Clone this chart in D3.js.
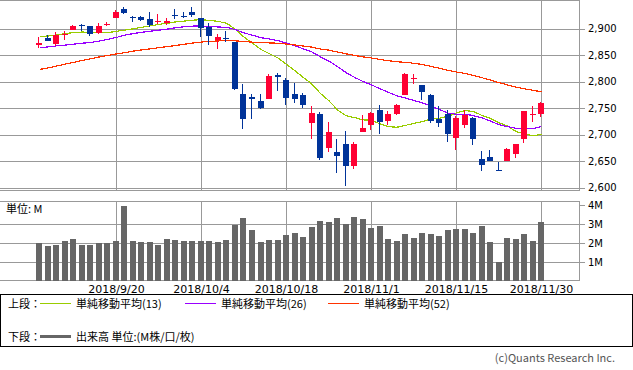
<!DOCTYPE html>
<html>
<head>
<meta charset="utf-8">
<script src="https://cdn.jsdelivr.net/npm/d3@7"></script>
<style>
  body { margin: 0; background: #fff; }
  svg { display: block; }
  .ax text { font-family: "DejaVu Sans", sans-serif; fill: #000; }
  .jp { font-family: "Noto Sans CJK JP", sans-serif; fill: #000; }
</style>
</head>
<body>
<div id="chart"></div>
<script>
// --- data ---
const dates = ["2018/9/7","2018/9/10","2018/9/11","2018/9/12","2018/9/13","2018/9/14","2018/9/17","2018/9/18","2018/9/19","2018/9/20",
  "2018/9/21","2018/9/24","2018/9/25","2018/9/26","2018/9/27","2018/9/28","2018/10/1","2018/10/2","2018/10/3","2018/10/4",
  "2018/10/5","2018/10/8","2018/10/9","2018/10/10","2018/10/11","2018/10/12","2018/10/15","2018/10/16","2018/10/17","2018/10/18",
  "2018/10/19","2018/10/22","2018/10/23","2018/10/24","2018/10/25","2018/10/26","2018/10/29","2018/10/30","2018/10/31","2018/11/1",
  "2018/11/2","2018/11/5","2018/11/6","2018/11/7","2018/11/8","2018/11/9","2018/11/12","2018/11/13","2018/11/14","2018/11/15",
  "2018/11/16","2018/11/19","2018/11/20","2018/11/21","2018/11/23","2018/11/26","2018/11/27","2018/11/28","2018/11/29","2018/11/30"];

const open = [2868.3,2881.4,2871.6,2888.3,2896.9,2906.4,2903.8,2890.7,2906.6,2919.7,
  2936.8,2921.8,2921.8,2917.0,2911.7,2910.0,2926.3,2923.8,2931.7,2919.4,
  2902.5,2877.5,2882.5,2873.9,2776.9,2770.5,2763.8,2767.1,2811.7,2802.0,
  2775.7,2773.9,2721.0,2737.9,2674.9,2667.9,2682.7,2640.7,2705.6,2717.6,
  2745.5,2726.4,2738.4,2774.1,2806.4,2794.1,2773.9,2730.1,2737.9,2693.5,
  2718.5,2730.7,2654.6,2657.7,2633.4,2650.0,2663.8,2691.5,2737.0,2737.8];
const high = [2883.8,2886.9,2892.5,2894.7,2906.8,2908.3,2904.7,2911.2,2912.4,2934.8,
  2940.9,2923.8,2924.0,2931.2,2927.2,2920.5,2937.1,2931.4,2939.9,2919.8,
  2909.6,2889.5,2894.8,2874.0,2795.1,2775.8,2776.0,2813.5,2816.9,2806.0,
  2797.8,2778.9,2753.6,2742.6,2722.7,2692.4,2706.9,2685.4,2736.7,2741.7,
  2756.6,2744.3,2756.8,2815.2,2814.8,2794.1,2776.0,2754.6,2746.8,2735.4,
  2746.8,2733.2,2669.4,2670.7,2647.6,2674.4,2682.5,2744.0,2753.8,2760.9];
const low = [2864.1,2875.9,2866.8,2879.2,2896.4,2895.8,2886.2,2890.4,2903.8,2919.7,
  2927.1,2912.6,2913.7,2903.3,2909.3,2907.5,2917.9,2919.4,2921.4,2883.9,
  2869.3,2862.1,2874.3,2784.9,2710.5,2729.4,2749.0,2766.9,2781.8,2755.2,
  2760.3,2749.2,2691.4,2651.9,2667.8,2628.2,2603.5,2635.3,2705.6,2708.9,
  2700.4,2717.9,2737.1,2774.1,2795.0,2764.2,2722.0,2715.0,2685.8,2670.8,
  2712.2,2681.1,2631.5,2649.8,2631.1,2650.0,2655.9,2684.4,2722.9,2732.8];
const close = [2871.7,2877.1,2887.9,2888.9,2904.2,2905.0,2888.8,2904.3,2908.0,2930.8,
  2929.7,2919.4,2915.6,2906.0,2914.0,2914.0,2924.6,2923.4,2925.5,2901.6,
  2885.6,2884.4,2880.3,2785.7,2728.4,2767.1,2750.8,2809.9,2809.2,2768.8,
  2767.8,2755.9,2740.7,2656.1,2705.6,2658.7,2641.3,2682.6,2711.7,2740.4,
  2723.1,2738.3,2755.5,2813.9,2806.8,2781.0,2726.2,2722.2,2701.6,2730.2,
  2736.3,2690.7,2641.9,2649.9,2632.6,2673.5,2682.2,2743.8,2737.8,2760.2];

const ma13 = [2884.8,2885.9,2887.9,2890.4,2892.6,2893.3,2892.6,2891.8,2892.4,2894.6,
  2897.1,2899.5,2902.4,2905.0,2907.9,2909.9,2912.6,2914.1,2915.7,2916.7,
  2915.2,2913.4,2909.5,2898.5,2883.8,2872.4,2860.4,2852.4,2844.4,2832.4,
  2820.4,2807.3,2795.0,2777.3,2763.6,2746.5,2735.4,2731.9,2727.6,2726.8,
  2720.1,2714.7,2713.7,2717.2,2721.1,2724.2,2729.6,2730.9,2734.2,2741.0,
  2745.2,2743.5,2736.0,2730.3,2722.2,2715.9,2705.8,2700.9,2697.6,2700.2];
const ma26 = [2863.5,2865.4,2867.3,2868.8,2870.5,2872.3,2873.7,2876.4,2879.7,2883.2,
  2887.5,2890.5,2893.0,2894.9,2896.9,2898.9,2901.5,2903.4,2904.5,2904.6,
  2903.5,2902.9,2902.1,2897.8,2891.6,2887.4,2882.7,2880.1,2877.1,2872.5,
  2867.2,2861.5,2855.8,2846.3,2838.5,2828.0,2816.9,2807.8,2800.0,2793.6,
  2786.3,2779.5,2773.0,2768.8,2764.2,2759.6,2753.5,2747.2,2740.4,2738.2,
  2738.5,2735.6,2731.4,2725.2,2718.4,2714.8,2711.5,2711.0,2710.9,2714.9];
const ma52 = [2822.9,2825.8,2829.4,2832.8,2836.3,2839.8,2843.1,2846.4,2849.2,2852.0,
  2854.6,2857.4,2859.7,2861.7,2863.9,2865.9,2868.0,2870.3,2872.7,2874.5,
  2875.8,2876.5,2877.3,2876.7,2875.3,2874.3,2873.1,2872.8,2872.2,2870.6,
  2868.9,2866.9,2864.8,2861.3,2859.1,2855.6,2852.2,2849.2,2846.5,2844.3,
  2841.6,2839.2,2837.3,2836.1,2834.4,2832.1,2828.5,2825.1,2821.2,2818.0,
  2815.1,2811.5,2807.1,2802.7,2797.8,2793.6,2789.4,2786.3,2783.4,2780.6];

// volume in M
const volume = [2.00,1.82,1.91,2.12,2.23,1.91,1.91,1.98,1.98,2.12,
  3.93,2.12,2.07,2.07,1.87,2.23,2.17,2.12,2.12,2.12,
  2.12,2.07,2.17,2.93,3.33,2.70,2.07,2.17,2.17,2.40,
  2.51,2.30,2.86,3.18,3.12,3.33,3.02,3.38,3.28,2.81,
  2.91,2.23,2.12,2.49,2.28,2.54,2.49,2.38,2.70,2.75,
  2.75,2.54,2.91,2.07,1.02,2.28,2.23,2.49,2.12,3.12];

const dateTicks = ["2018/9/20","2018/10/4","2018/10/18","2018/11/1","2018/11/15","2018/11/30"];
const priceTicks = [2600,2650,2700,2750,2800,2850,2900];
const volumeTicks = [1,2,3,4];

const maLabels = ["単純移動平均(13)","単純移動平均(26)","単純移動平均(52)"];
const maColors = ["#99cc00","#9900ff","#ff3300"];
// --- end data ---

const width = 633, height = 370;
const plotRight = 579;
const main = { top: 0, bottom: 190 };
const vol = { top: 201, bottom: 281 };
const upColor = "#ff0033", downColor = "#003399";

const svg = d3.select("#chart").append("svg")
  .attr("width", width).attr("height", height);

svg.append("rect").attr("width", width).attr("height", height).attr("fill", "#fff");

const x = d3.scaleBand()
  .domain(dates)
  .range([35.75, 545.75])
  .paddingInner(0.3)
  .paddingOuter(0.15);
const cx = d => x(d) + x.bandwidth() / 2;

const y = d3.scaleLinear().domain([2600, 2900]).range([187.5, 28.5]);
const yv = d3.scaleLinear().domain([0, 4]).range([281, 205]);

const grid = svg.append("g").attr("stroke", "#999").attr("stroke-width", 1).attr("shape-rendering", "crispEdges");

// horizontal grid - main
grid.selectAll(".hp").data(priceTicks).enter().append("line")
  .attr("x1", 0).attr("x2", plotRight)
  .attr("y1", d => Math.round(y(d)) + 0.5).attr("y2", d => Math.round(y(d)) + 0.5);
// horizontal grid - volume
grid.selectAll(".hv").data(volumeTicks.slice(0, 3)).enter().append("line")
  .attr("x1", 0).attr("x2", plotRight)
  .attr("y1", d => Math.round(yv(d)) + 0.5).attr("y2", d => Math.round(yv(d)) + 0.5);

// vertical grid on both panels
dateTicks.forEach(t => {
  const gx = Math.floor(cx(t)) + 0.5;
  grid.append("line").attr("x1", gx).attr("x2", gx).attr("y1", main.top).attr("y2", main.bottom);
  grid.append("line").attr("x1", gx).attr("x2", gx).attr("y1", vol.top).attr("y2", vol.bottom);
});

// panel frames
grid.append("rect").attr("x", -1.5).attr("y", 0.5).attr("width", plotRight + 2).attr("height", main.bottom).attr("fill", "none");
grid.append("rect").attr("x", -1.5).attr("y", vol.top + 0.5).attr("width", plotRight + 2).attr("height", vol.bottom - vol.top - 1).attr("fill", "none");

// volume bars
svg.append("g").selectAll("rect").data(dates).enter().append("rect")
  .attr("x", d => Math.floor(cx(d) - 3))
  .attr("width", 6)
  .attr("y", (d, i) => Math.round(yv(volume[i])))
  .attr("height", (d, i) => yv(0) - Math.round(yv(volume[i])))
  .attr("fill", "#666")
  .attr("shape-rendering", "crispEdges");

// moving averages
const maG = svg.append("g").attr("fill", "none").attr("stroke-width", 1.2);
[ma13, ma26, ma52].forEach((s, k) => {
  maG.append("path")
    .datum(s)
    .attr("stroke", maColors[k])
    .attr("shape-rendering", "crispEdges")
    .attr("d", d3.line().x((d, i) => cx(dates[i])).y(d => y(d)));
});

// candles
const candles = svg.append("g").attr("shape-rendering", "crispEdges");
const cg = candles.selectAll("g").data(dates).enter().append("g")
  .attr("fill", (d, i) => close[i] >= open[i] ? upColor : downColor)
  .attr("stroke", (d, i) => close[i] >= open[i] ? upColor : downColor);

cg.append("line")
  .attr("x1", d => Math.floor(cx(d)) - 0.5).attr("x2", d => Math.floor(cx(d)) - 0.5)
  .attr("y1", (d, i) => y(high[i])).attr("y2", (d, i) => y(low[i]));

cg.append("rect")
  .attr("stroke", "none")
  .attr("x", d => Math.floor(cx(d) - 3))
  .attr("width", 6)
  .attr("y", (d, i) => Math.round(y(Math.max(open[i], close[i]))))
  .attr("height", (d, i) => Math.max(1, Math.round(y(Math.min(open[i], close[i]))) - Math.round(y(Math.max(open[i], close[i])))));

// axes
const yAxis = d3.axisRight(y).tickValues(priceTicks).tickSize(6).tickPadding(3).tickFormat(d3.format(","));
svg.append("g").attr("class", "ax")
  .attr("transform", `translate(${plotRight}, 0)`)
  .call(yAxis)
  .call(g => g.select(".domain").remove())
  .call(g => g.selectAll("line").attr("stroke", "#999").attr("shape-rendering", "crispEdges"))
  .call(g => g.selectAll("text").attr("font-size", 10));

const vAxis = d3.axisRight(yv).tickValues(volumeTicks).tickSize(6).tickPadding(3).tickFormat(d => d + "M");
svg.append("g").attr("class", "ax")
  .attr("transform", `translate(${plotRight}, 0)`)
  .call(vAxis)
  .call(g => g.select(".domain").remove())
  .call(g => g.selectAll("line").attr("stroke", "#999").attr("shape-rendering", "crispEdges"))
  .call(g => g.selectAll("text").attr("font-size", 10));

const xAxis = d3.axisBottom(x).tickValues(dateTicks).tickSize(0).tickPadding(4);
svg.append("g").attr("class", "ax")
  .attr("transform", `translate(0, ${vol.bottom})`)
  .call(xAxis)
  .call(g => g.select(".domain").remove())
  .call(g => g.selectAll("text").attr("font-size", 11));

svg.append("text").attr("class", "jp").attr("x", 6).attr("y", 213).attr("font-size", 11).text("単位: M");

// legend
svg.append("rect").attr("x", 0.5).attr("y", 294.5).attr("width", 632).attr("height", 52)
  .attr("fill", "none").attr("stroke", "#000").attr("shape-rendering", "crispEdges");

svg.append("text").attr("class", "jp").attr("x", 8).attr("y", 307.5).attr("font-size", 11).text("上段：");
const legX = [40, 185, 328];
maLabels.forEach((lab, k) => {
  svg.append("line").attr("x1", legX[k]).attr("x2", legX[k] + 31).attr("y1", 303.5).attr("y2", 303.5)
    .attr("stroke", maColors[k]).attr("shape-rendering", "crispEdges");
  svg.append("text").attr("class", "jp").attr("x", legX[k] + 36).attr("y", 307.5).attr("font-size", 11).text(lab);
});

svg.append("text").attr("class", "jp").attr("x", 8).attr("y", 340.5).attr("font-size", 11).text("下段：");
svg.append("line").attr("x1", 40).attr("x2", 71).attr("y1", 336).attr("y2", 336)
  .attr("stroke", "#666").attr("stroke-width", 3).attr("shape-rendering", "crispEdges");
svg.append("text").attr("class", "jp").attr("x", 76).attr("y", 340.5).attr("font-size", 11).text("出来高 単位:(M株/口/枚)");

svg.append("text").attr("class", "jp").attr("x", 615).attr("y", 362).attr("font-size", 11)
  .attr("text-anchor", "end").attr("fill", "#555").style("fill", "#555").text("(c)Quants Research Inc.");
</script>
</body>
</html>
